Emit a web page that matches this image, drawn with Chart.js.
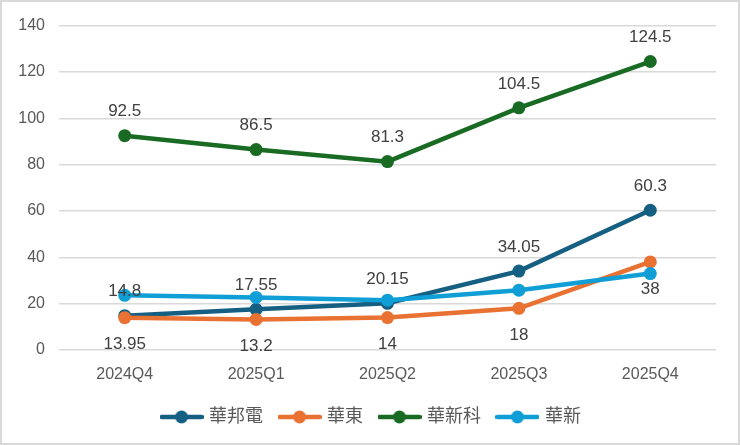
<!DOCTYPE html>
<html>
<head>
<meta charset="utf-8">
<script src="https://cdn.jsdelivr.net/npm/chart.js@4.4.1/dist/chart.umd.min.js"></script>
<style>
  html, body { margin: 0; padding: 0; background: #fff; }
  #wrap {
    width: 740px; height: 445px; box-sizing: border-box;
    border: 2px solid #d9d9d9; background: #fff;
  }
</style>
</head>
<body>
<div id="wrap"><canvas id="chart" width="736" height="441"></canvas></div>
<script>
const quarters = ["2024Q4", "2025Q1", "2025Q2", "2025Q3", "2025Q4"];
const winbond = [14.8, 17.55, 20.15, 34.05, 60.3];    // 華邦電
const walsinEast = [13.95, 13.2, 14, 18, 38];          // 華東
const walsinTech = [92.5, 86.5, 81.3, 104.5, 124.5];   // 華新科
const walsin = [23.6, 22.7, 21.5, 25.8, 33];           // 華新 (no labels)
const yTicks = [0, 20, 40, 60, 80, 100, 120, 140];

const FONT = "'Liberation Sans', 'Noto Sans CJK TC', sans-serif";

// small canvas "line with dot" used as legend marker
function legendMarker(color) {
  const c = document.createElement("canvas");
  c.width = 44;
  c.height = 14;
  const g = c.getContext("2d");
  g.strokeStyle = color;
  g.lineWidth = 4.5;
  g.lineCap = "round";
  g.beginPath();
  g.moveTo(2, 7);
  g.lineTo(42, 7);
  g.stroke();
  g.fillStyle = color;
  g.beginPath();
  g.arc(22, 7, 6.5, 0, Math.PI * 2);
  g.fill();
  return c;
}

// draws the value labels above / below points
const valueLabels = {
  id: "valueLabels",
  afterDatasetsDraw(chart) {
    const ctx = chart.ctx;
    ctx.save();
    ctx.font = "17px " + FONT;
    ctx.fillStyle = "#404040";
    ctx.textAlign = "center";
    ctx.textBaseline = "middle";
    chart.data.datasets.forEach((ds, i) => {
      if (!ds.labelPos) return;
      const meta = chart.getDatasetMeta(i);
      meta.data.forEach((pt, j) => {
        const off = ds.labelPos === "above" ? -24 : 27;
        ctx.fillText(String(ds.data[j]), pt.x, pt.y + off);
      });
    });
    ctx.restore();
  },
};

// the legend is centred on the whole picture, not on the padded box
const legendShift = {
  id: "legendShift",
  afterLayout(chart) {
    chart.legend.left += 13;
    chart.legend.right += 13;
  },
};

function series(label, data, color, order, labelPos) {
  return {
    label,
    data,
    borderColor: color,
    backgroundColor: color,
    borderWidth: 4.5,
    pointRadius: 6.5,
    pointHoverRadius: 6.5,
    pointBorderWidth: 0,
    tension: 0,
    order,
    labelPos,
    marker: legendMarker(color),
  };
}

const ctx = document.getElementById("chart").getContext("2d");
new Chart(ctx, {
  type: "line",
  data: {
    labels: quarters,
    datasets: [
      series("華邦電", winbond, "#156082", 4, "above"),
      series("華東", walsinEast, "#E97132", 3, "below"),
      series("華新科", walsinTech, "#196B24", 2, "above"),
      series("華新", walsin, "#0F9ED5", 1, null),
    ],
  },
  options: {
    responsive: false,
    animation: false,
    layout: { padding: { top: 15, right: 22, left: 0, bottom: 7 } },
    scales: {
      x: {
        offset: true,
        grid: { display: false },
        border: { display: false },
        ticks: { color: "#595959", font: { family: FONT, size: 16 }, padding: 7 },
        afterFit: (scale) => { scale.height = 40; },
      },
      y: {
        min: 0,
        max: 140,
        afterBuildTicks: (scale) => {
          scale.ticks = yTicks.map((v) => ({ value: v }));
        },
        grid: { color: "#d9d9d9", lineWidth: 1.5, drawTicks: false },
        border: { display: false },
        ticks: { color: "#595959", font: { family: FONT, size: 16 }, padding: 14 },
        afterFit: (scale) => { scale.width = 57; },
      },
    },
    plugins: {
      tooltip: { enabled: false },
      legend: {
        position: "bottom",
        labels: {
          usePointStyle: true,
          pointStyleWidth: 37,
          boxHeight: 14,
          padding: 18,
          color: "#595959",
          font: { family: FONT, size: 18 },
          generateLabels: (chart) =>
            chart.data.datasets.map((ds, i) => ({
              text: ds.label,
              fillStyle: ds.borderColor,
              strokeStyle: ds.borderColor,
              lineWidth: 0,
              pointStyle: ds.marker,
              hidden: false,
              datasetIndex: i,
              fontColor: "#595959",
            })),
        },
      },
    },
  },
  plugins: [valueLabels, legendShift],
});
</script>
</body>
</html>
